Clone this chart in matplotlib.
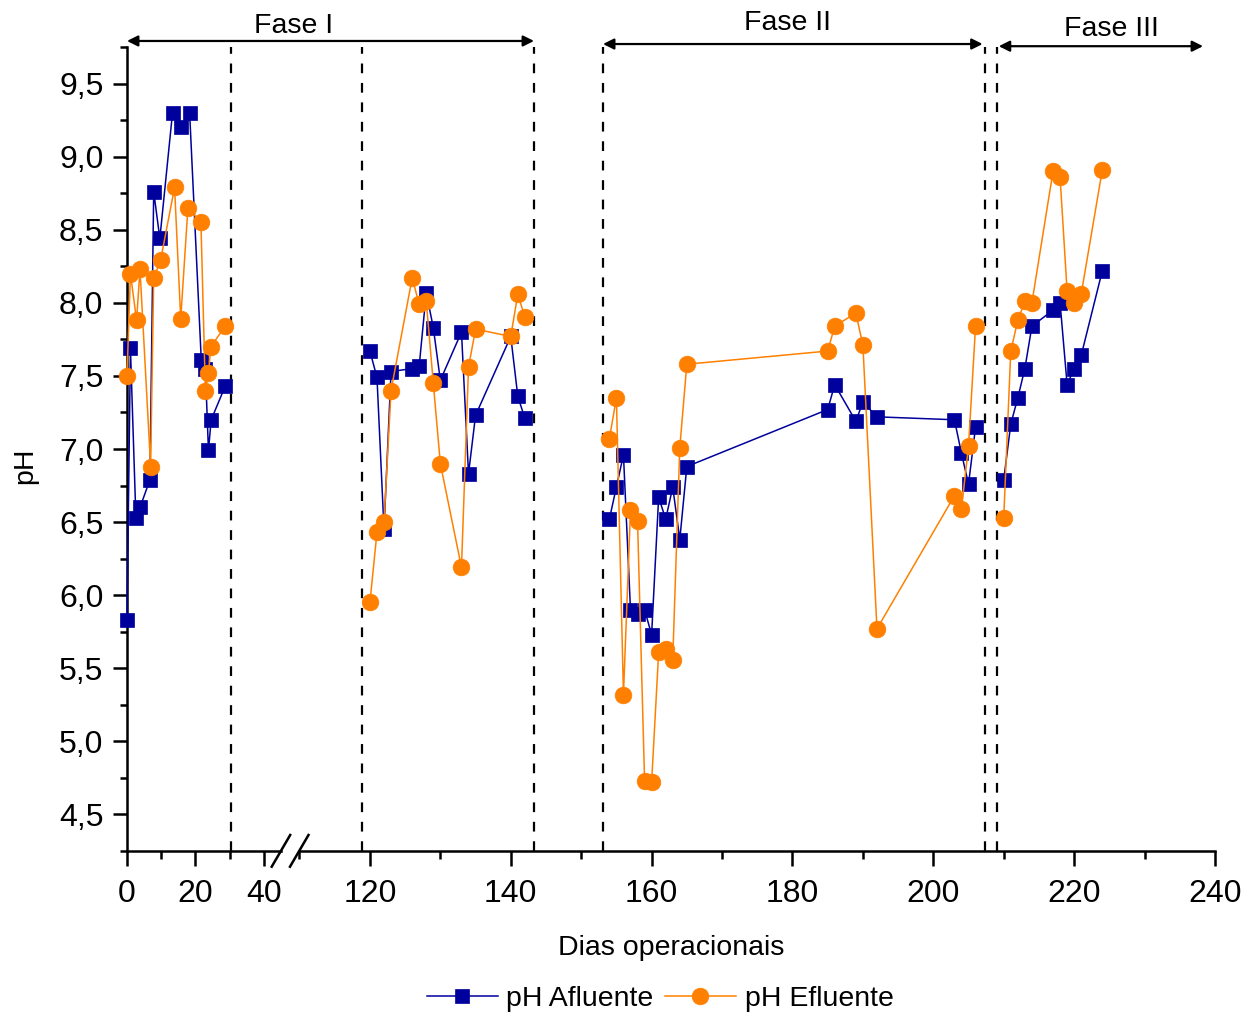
import matplotlib
matplotlib.use("Agg")
import matplotlib.pyplot as plt
from matplotlib.ticker import FixedLocator, FuncFormatter
from matplotlib.lines import Line2D

plt.rcParams['font.family'] = ['Liberation Sans', 'DejaVu Sans']
plt.rcParams['lines.scale_dashes'] = False

# ---------------- data ----------------
# Fase I (first part, left of axis break)
days_1 = [0, 1, 2.6, 3.8, 6.7, 7.8, 9.6, 13.3, 15.7, 18.3, 21.7, 22.9, 23.8, 24.6, 28.7]
afl_1 = [5.83, 7.69, 6.53, 6.60, 6.79, 8.76, 8.44, 9.30, 9.20, 9.30, 7.61, 7.55, 6.99, 7.20, 7.43]
days_1e = [0, 1, 2.8, 3.8, 6.9, 7.8, 9.8, 13.9, 15.7, 17.8, 21.6, 22.9, 23.8, 24.5, 28.7]
efl_1 = [7.50, 8.20, 7.88, 8.23, 6.88, 8.17, 8.29, 8.79, 7.89, 8.65, 8.55, 7.40, 7.52, 7.70, 7.84]

# Fase I (second part)
days_2 = [120, 121, 122, 123, 126, 127, 128, 129, 130, 133, 134, 135, 140, 141, 142]
afl_2 = [7.67, 7.49, 6.45, 7.53, 7.55, 7.57, 8.07, 7.83, 7.47, 7.80, 6.83, 7.23, 7.77, 7.36, 7.21]
efl_2 = [5.95, 6.43, 6.50, 7.40, 8.17, 7.99, 8.01, 7.45, 6.90, 6.19, 7.56, 7.82, 7.77, 8.06, 7.90]

# Fase II
days_3 = [154, 155, 156, 157, 158, 159, 160, 161, 162, 163, 164, 165,
          185, 186, 189, 190, 192, 203, 204, 205, 206]
afl_3 = [6.52, 6.74, 6.96, 5.90, 5.87, 5.90, 5.73, 6.67, 6.52, 6.74, 6.38, 6.88,
         7.27, 7.44, 7.19, 7.32, 7.22, 7.20, 6.97, 6.76, 7.15]
efl_3 = [7.07, 7.35, 5.32, 6.58, 6.51, 4.73, 4.72, 5.61, 5.63, 5.56, 7.01, 7.58,
         7.67, 7.84, 7.93, 7.71, 5.77, 6.68, 6.59, 7.02, 7.84]

# Fase III
days_4 = [210, 211, 212, 213, 214, 217, 218, 219, 220, 221, 224]
afl_4 = [6.79, 7.17, 7.35, 7.55, 7.84, 7.95, 8.00, 7.44, 7.55, 7.64, 8.22]
efl_4 = [6.53, 7.67, 7.88, 8.01, 8.00, 8.90, 8.86, 8.08, 8.00, 8.06, 8.91]

phase_lines_left = [30.4]
phase_lines_right = [118.9, 143.3, 153.1, 207.4, 209.1]
phase_labels = ["Fase I", "Fase II", "Fase III"]
series_labels = ["pH Afluente", "pH Efluente"]
yticks = [4.5, 5.0, 5.5, 6.0, 6.5, 7.0, 7.5, 8.0, 8.5, 9.0, 9.5]

BLUE = "#00009C"
ORANGE = "#FF8000"
FS_TICK = 23
FS_LAB = 20.5

W, H = 1255, 1013
fig = plt.figure(figsize=(W / 100, H / 100), dpi=100)

def fx(px):
    return px / W

def fy(py):
    return 1 - py / H

ax_bottom, ax_top = fy(851), fy(47)
ax1 = fig.add_axes([fx(127), ax_bottom, fx(281) - fx(127), ax_top - ax_bottom])
ax2 = fig.add_axes([fx(299.5), ax_bottom, fx(1215) - fx(299.5), ax_top - ax_bottom])

for ax in (ax1, ax2):
    ax.set_ylim(4.25, 9.75)
    for s in ("top", "right"):
        ax.spines[s].set_visible(False)
    ax.spines["bottom"].set_linewidth(1.8)
    ax.tick_params(axis="x", which="major", direction="out", length=11, width=1.8,
                   labelsize=FS_TICK, pad=9.5)
    ax.tick_params(axis="x", which="minor", direction="out", length=5.5, width=1.8)
    ax.patch.set_alpha(0)

ax1.set_xlim(0, 45)
ax2.set_xlim(110, 240)
ax1.xaxis.set_major_locator(FixedLocator([0, 20, 40]))
ax1.xaxis.set_minor_locator(FixedLocator([10, 30]))
ax2.xaxis.set_major_locator(FixedLocator([120, 140, 160, 180, 200, 220, 240]))
ax2.xaxis.set_minor_locator(FixedLocator([110, 130, 150, 170, 190, 210, 230]))

ax1.spines["left"].set_linewidth(1.8)
ax1.yaxis.set_major_locator(FixedLocator(yticks))
ax1.yaxis.set_minor_locator(FixedLocator([v + 0.25 for v in yticks] + [4.25]))
ax1.yaxis.set_major_formatter(FuncFormatter(lambda v, p: f"{v:.1f}".replace(".", ",")))
ax1.tick_params(axis="y", which="major", direction="out", length=10, width=1.8,
                labelsize=FS_TICK, pad=7)
ax1.tick_params(axis="y", which="minor", direction="out", length=5, width=1.8)

ax2.spines["left"].set_visible(False)
ax2.tick_params(axis="y", which="both", left=False, labelleft=False)

mk_a = dict(color=BLUE, lw=1.1, marker="s", ms=10.5, mec=BLUE, mew=0.5, zorder=3)
mk_e = dict(color=ORANGE, lw=1.1, marker="o", ms=12, mec=ORANGE, mew=0.5, zorder=4)

ax1.plot(days_1, afl_1, clip_on=False, **mk_a)
ax1.plot(days_1e, efl_1, clip_on=False, **mk_e)
for d, a, e in [(days_2, afl_2, efl_2), (days_3, afl_3, efl_3), (days_4, afl_4, efl_4)]:
    ax2.plot(d, a, **mk_a)
    ax2.plot(d, e, **mk_e)

dash = dict(color="black", lw=1.6, dashes=(7, 7), zorder=2)
for x in phase_lines_left:
    ax1.axvline(x, **dash)
for x in phase_lines_right:
    ax2.axvline(x, **dash)

# phase arrows
arrow_kw = dict(arrowstyle="<|-|>", color="black", lw=1.6, mutation_scale=16,
                shrinkA=0, shrinkB=0)
ax2.annotate("", xy=(143.3, 1.0075), xycoords=(ax2.transData, ax2.transAxes),
             xytext=(0, 1.0075), textcoords=(ax1.transData, ax1.transAxes),
             arrowprops=arrow_kw, annotation_clip=False)
ax2.annotate("", xy=(207.0, 1.0037), xycoords=("data", "axes fraction"),
             xytext=(153.1, 1.0037), textcoords=("data", "axes fraction"),
             arrowprops=arrow_kw, annotation_clip=False)
ax2.annotate("", xy=(238.3, 1.001), xycoords=("data", "axes fraction"),
             xytext=(209.3, 1.001), textcoords=("data", "axes fraction"),
             arrowprops=arrow_kw, annotation_clip=False)

fig.text(fx(294), fy(26), phase_labels[0], fontsize=FS_LAB, ha="center", va="center")
fig.text(fx(787), fy(23), phase_labels[1], fontsize=FS_LAB, ha="center", va="center")
fig.text(fx(1111), fy(29), phase_labels[2], fontsize=FS_LAB, ha="center", va="center")

# axis break marks
for x0 in (271.7, 290.0):
    fig.add_artist(Line2D([fx(x0), fx(x0 + 18.5)], [fy(866.7), fy(835)],
                          color="black", lw=1.8))

fig.text(fx(671), fy(948), "Dias operacionais", fontsize=FS_LAB, ha="center", va="center")
fig.text(fx(25), fy(466), "pH", fontsize=FS_LAB, ha="center", va="center", rotation=90)

handles = [Line2D([], [], **{k: v for k, v in mk_a.items() if k != "zorder"}),
           Line2D([], [], **{k: v for k, v in mk_e.items() if k != "zorder"})]
fig.legend(handles, series_labels, loc="center", bbox_to_anchor=(fx(660), fy(999)),
           ncol=2, frameon=False, fontsize=FS_LAB, handlelength=2.5, handletextpad=0.3,
           columnspacing=0.4)

fig.savefig("out.png", dpi=100)
